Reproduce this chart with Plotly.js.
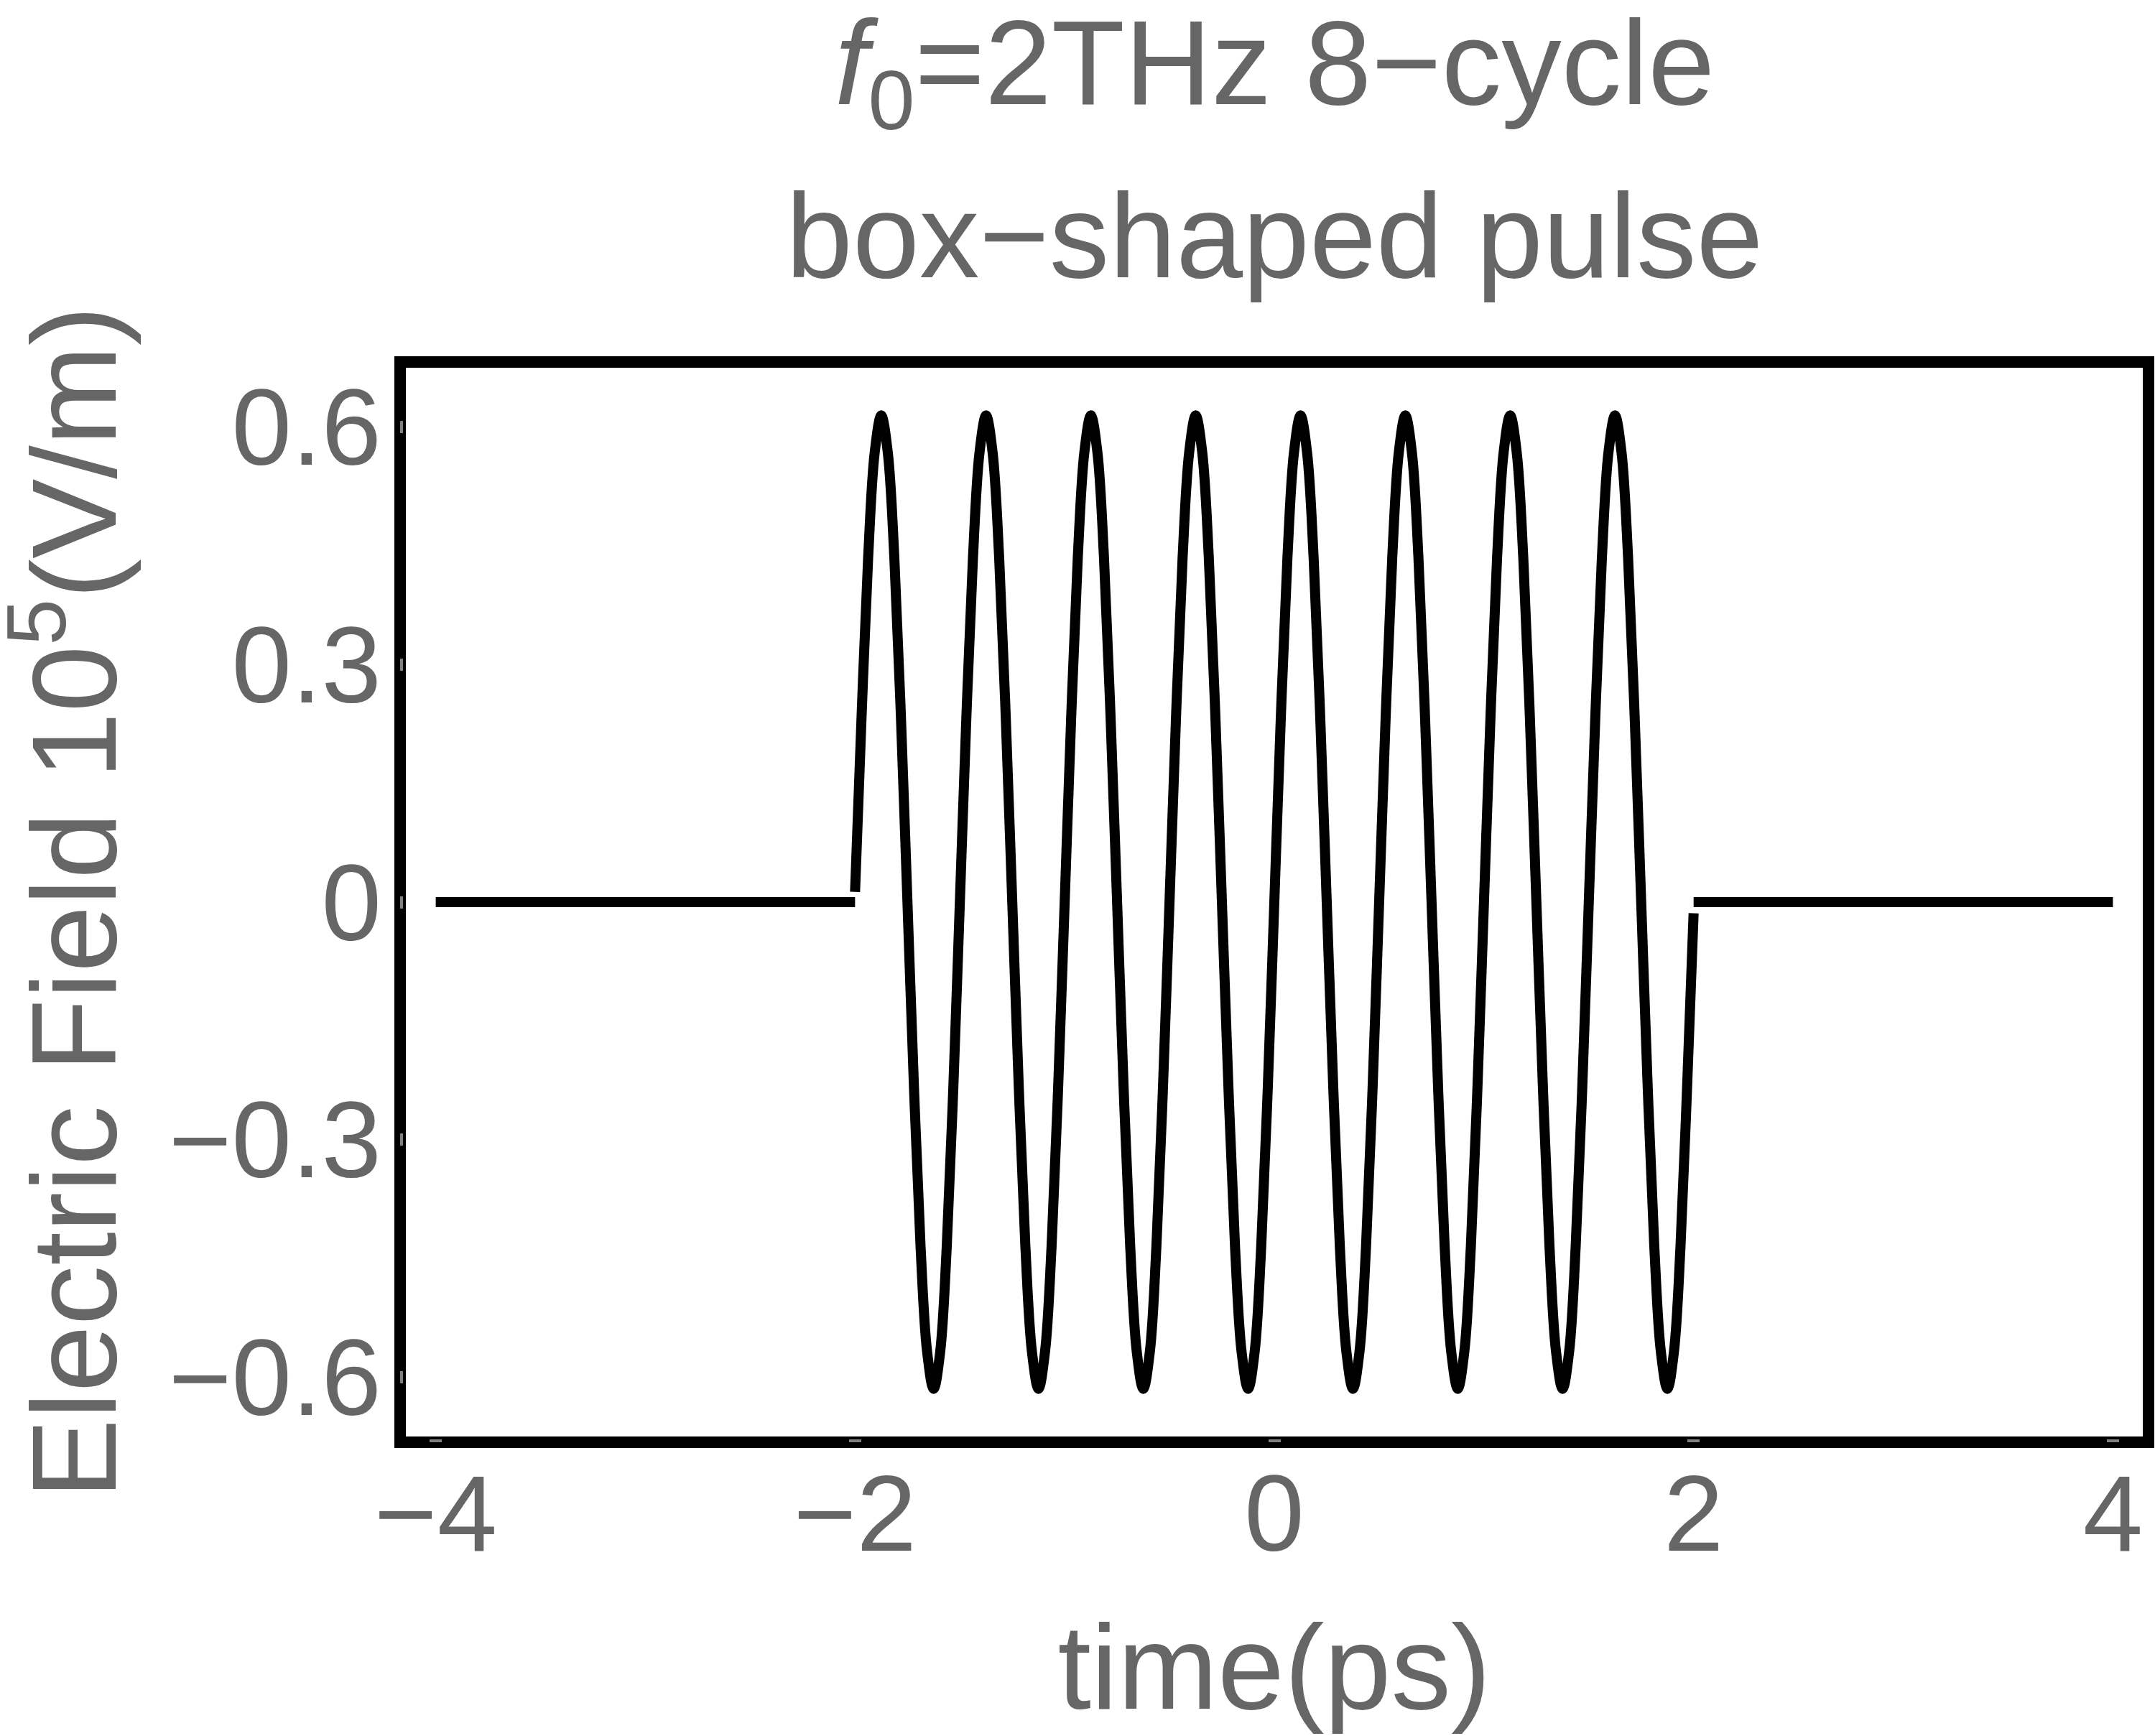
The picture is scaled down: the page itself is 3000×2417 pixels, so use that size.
<!DOCTYPE html>
<html>
<head>
<meta charset="utf-8">
<script src="https://cdn.plot.ly/plotly-3.0.1.min.js"></script>
<style>
  body { margin: 0; background: #fff; }
  #pulse-plot { width: 3000px; height: 2417px; }
</style>
</head>
<body>
<div id="pulse-plot"></div>
<script>
// flat parts of the field before and after the pulse
var beforeTime = [-4, -2];
var beforeField = [0, 0];
var afterTime = [2, 4];
var afterField = [0, 0];

// field inside the box (16 samples per cycle)
var pulseTime = [
  -2, -1.96875, -1.9375, -1.90625, -1.875, -1.84375, -1.8125, -1.78125,
  -1.75, -1.71875, -1.6875, -1.65625, -1.625, -1.59375, -1.5625, -1.53125,
  -1.5, -1.46875, -1.4375, -1.40625, -1.375, -1.34375, -1.3125, -1.28125,
  -1.25, -1.21875, -1.1875, -1.15625, -1.125, -1.09375, -1.0625, -1.03125,
  -1, -0.96875, -0.9375, -0.90625, -0.875, -0.84375, -0.8125, -0.78125,
  -0.75, -0.71875, -0.6875, -0.65625, -0.625, -0.59375, -0.5625, -0.53125,
  -0.5, -0.46875, -0.4375, -0.40625, -0.375, -0.34375, -0.3125, -0.28125,
  -0.25, -0.21875, -0.1875, -0.15625, -0.125, -0.09375, -0.0625, -0.03125,
  0, 0.03125, 0.0625, 0.09375, 0.125, 0.15625, 0.1875, 0.21875,
  0.25, 0.28125, 0.3125, 0.34375, 0.375, 0.40625, 0.4375, 0.46875,
  0.5, 0.53125, 0.5625, 0.59375, 0.625, 0.65625, 0.6875, 0.71875,
  0.75, 0.78125, 0.8125, 0.84375, 0.875, 0.90625, 0.9375, 0.96875,
  1, 1.03125, 1.0625, 1.09375, 1.125, 1.15625, 1.1875, 1.21875,
  1.25, 1.28125, 1.3125, 1.34375, 1.375, 1.40625, 1.4375, 1.46875,
  1.5, 1.53125, 1.5625, 1.59375, 1.625, 1.65625, 1.6875, 1.71875,
  1.75, 1.78125, 1.8125, 1.84375, 1.875, 1.90625, 1.9375, 1.96875, 2
];
var pulseField = [
  0.013, 0.235, 0.435, 0.568, 0.615, 0.568, 0.435, 0.235,
  0, -0.235, -0.435, -0.568, -0.615, -0.568, -0.435, -0.235,
  0, 0.235, 0.435, 0.568, 0.615, 0.568, 0.435, 0.235,
  0, -0.235, -0.435, -0.568, -0.615, -0.568, -0.435, -0.235,
  0, 0.235, 0.435, 0.568, 0.615, 0.568, 0.435, 0.235,
  0, -0.235, -0.435, -0.568, -0.615, -0.568, -0.435, -0.235,
  0, 0.235, 0.435, 0.568, 0.615, 0.568, 0.435, 0.235,
  0, -0.235, -0.435, -0.568, -0.615, -0.568, -0.435, -0.235,
  0, 0.235, 0.435, 0.568, 0.615, 0.568, 0.435, 0.235,
  0, -0.235, -0.435, -0.568, -0.615, -0.568, -0.435, -0.235,
  0, 0.235, 0.435, 0.568, 0.615, 0.568, 0.435, 0.235,
  0, -0.235, -0.435, -0.568, -0.615, -0.568, -0.435, -0.235,
  0, 0.235, 0.435, 0.568, 0.615, 0.568, 0.435, 0.235,
  0, -0.235, -0.435, -0.568, -0.615, -0.568, -0.435, -0.235,
  0, 0.235, 0.435, 0.568, 0.615, 0.568, 0.435, 0.235,
  0, -0.235, -0.435, -0.568, -0.615, -0.568, -0.435, -0.235, -0.014
];

// ticks
var xTickVals = [-4, -2, 0, 2, 4];
var xTickText = ["\u22124", "\u22122", "0", "2", "4"];
var yTickVals = [-0.6, -0.3, 0, 0.3, 0.6];
var yTickText = ["\u22120.6", "\u22120.3", "0", "0.3", "0.6"];

var grey = "#666666";
var font = "Liberation Sans, Arial, sans-serif";

// one line, broken where the box switches on and off
var trace = {
  x: beforeTime.concat([null], pulseTime, [null], afterTime),
  y: beforeField.concat([null], pulseField, [null], afterField),
  type: "scatter",
  mode: "lines",
  line: {color: "#000000", width: 14, shape: "spline", smoothing: 1},
  connectgaps: false,
  hoverinfo: "skip"
};

var layout = {
  width: 3000,
  height: 2417,
  margin: {l: 557, r: 9, t: 504, b: 409},
  paper_bgcolor: "#ffffff",
  plot_bgcolor: "#ffffff",
  showlegend: false,
  font: {family: font, color: grey, size: 150},
  xaxis: {
    range: [-4.17, 4.17],
    tickvals: xTickVals,
    ticktext: xTickText,
    ticks: "inside",
    ticklen: 4,
    tickwidth: 17,
    tickcolor: "#808080",
    showgrid: false,
    zeroline: false,
    showline: false,
    tickfont: {family: font, color: grey, size: 150},
    title: {text: "time(ps)", font: {family: font, color: grey, size: 167}, standoff: 72}
  },
  yaxis: {
    range: [-0.6824, 0.6824],
    tickvals: yTickVals,
    ticktext: yTickText,
    ticks: "inside",
    ticklen: 4,
    tickwidth: 17,
    tickcolor: "#808080",
    ticklabelstandoff: 25,
    showgrid: false,
    zeroline: false,
    showline: false,
    tickfont: {family: font, color: grey, size: 150}
  },
  // black frame around the plot
  shapes: [{
    type: "rect", xref: "paper", yref: "paper",
    x0: 0, x1: 1, y0: 0, y1: 1,
    line: {color: "#000000", width: 16},
    layer: "below"
  }],
  annotations: [
    {
      text: "<i>f</i><sub>0</sub>=2THz 8\u2212cycle",
      xref: "paper", yref: "paper", x: 0.5, y: 1.269,
      xanchor: "center", yanchor: "middle", showarrow: false,
      font: {family: font, color: grey, size: 167}
    },
    {
      text: "box\u2212shaped pulse",
      xref: "paper", yref: "paper", x: 0.5, y: 1.117,
      xanchor: "center", yanchor: "middle", showarrow: false,
      font: {family: font, color: grey, size: 167}
    },
    {
      // y axis title, placed by hand so it sits as far left as in the original
      text: "Electric Field 10<sup>5</sup>(V/m)",
      xref: "paper", yref: "paper", x: -0.192, y: 0.5,
      xanchor: "center", yanchor: "middle", textangle: -90, showarrow: false,
      font: {family: font, color: grey, size: 167}
    }
  ]
};

Plotly.newPlot("pulse-plot", [trace], layout, {staticPlot: true});
</script>
</body>
</html>
